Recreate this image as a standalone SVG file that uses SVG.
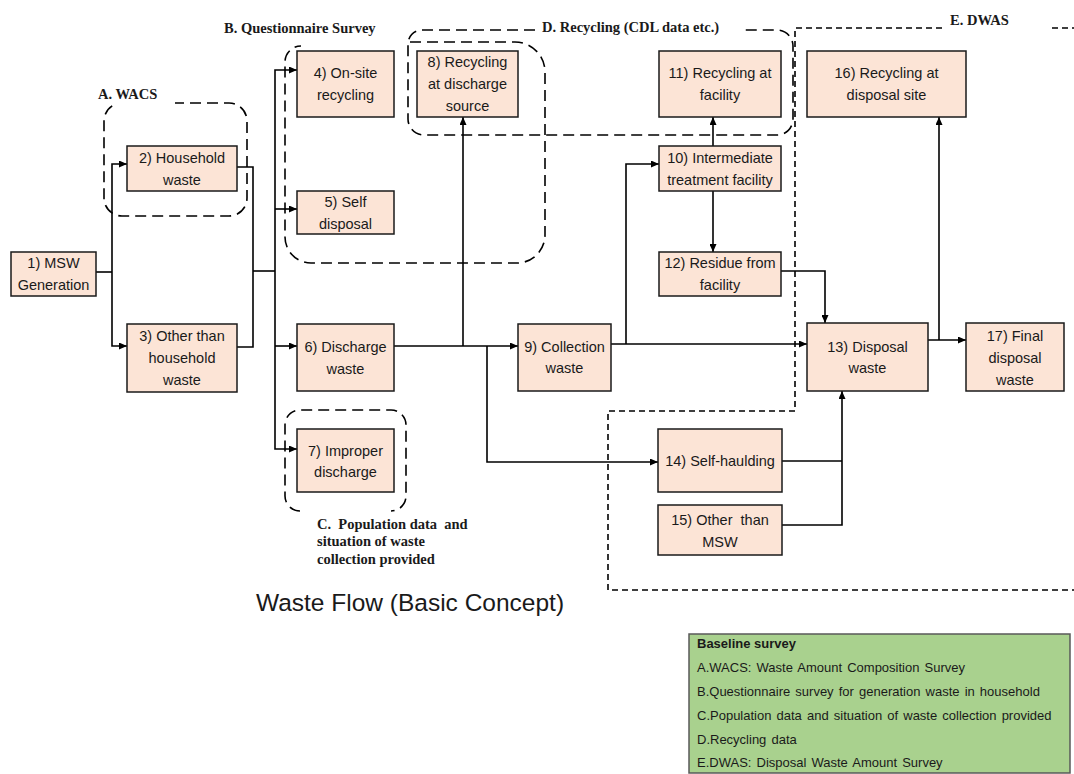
<svg xmlns="http://www.w3.org/2000/svg" width="1074" height="774" viewBox="0 0 1074 774">
  <defs>
    <marker id="arr" viewBox="0 0 8 7" markerUnits="userSpaceOnUse" markerWidth="8" markerHeight="7" refX="8" refY="3.5" orient="auto">
      <path d="M0,0 L8,3.5 L0,7 z" fill="#000"/>
    </marker>
    <style>
      .node rect { fill: #fce4d6; stroke: #1a1a1a; stroke-width: 1.5; }
      .node text { font-family: "Liberation Sans", Arial, sans-serif; font-size: 14.5px; fill: #1a1a1a; text-anchor: middle; }
      .conn path { fill: none; stroke: #000; stroke-width: 1.6; }
      .conn .a { marker-end: url(#arr); }
      .zone { fill: none; stroke: #000; stroke-width: 1.6; stroke-dasharray: 11 6; }
      .zoneE { fill: none; stroke: #000; stroke-width: 1.6; stroke-dasharray: 6 4; }
      .lbl { font-family: "Liberation Serif", "Times New Roman", serif; font-weight: bold; font-size: 14.5px; fill: #1a1a1a; }
      .legend text { font-family: "Liberation Sans", Arial, sans-serif; font-size: 13px; fill: #1a1a1a; word-spacing: 1.5px; }
    </style>
  </defs>
  <rect width="1074" height="774" fill="#fff"/>

  <!-- survey zones -->
  <g id="zones">
    <rect class="zone" x="104" y="103" width="143" height="113" rx="18"/>
    <rect x="115" y="84" width="60" height="24" fill="#fff"/>
    <path class="zone" d="M410,42 H515 A30,30 0 0 1 545,72 V235 A28,28 0 0 1 517,263 H311 A26,26 0 0 1 285,237 V62 A16,16 0 0 1 301,46"/>
    <path class="zone" d="M535,30 H422 A14,14 0 0 0 408,44 V119 A16,16 0 0 0 424,135 H777 A16,16 0 0 0 793,119 V46 A16,16 0 0 0 777,30 H742"/>
    <path class="zone" d="M300,511 A15,15 0 0 1 285,496 V425 A15,15 0 0 1 300,410 H391 A15,15 0 0 1 406,425 V496 A15,15 0 0 1 391,511"/>
    <path class="zoneE" d="M942,28 H795 V411 H608 V590 H1074"/>
    <path class="zoneE" d="M1052,28 H1074"/>
    <text class="lbl" x="98" y="99">A. WACS</text>
    <text class="lbl" x="224" y="33">B. Questionnaire Survey</text>
    <text class="lbl" x="542" y="32">D. Recycling (CDL data etc.)</text>
    <text class="lbl" x="950" y="25">E. DWAS</text>
    <text class="lbl" x="317" y="529" xml:space="preserve">C.  Population data  and</text>
    <text class="lbl" x="317" y="546">situation of waste</text>
    <text class="lbl" x="317" y="564">collection provided</text>
  </g>

  <!-- flow connectors -->
  <g id="connectors" class="conn">
    <path d="M96,272 H112"/>
    <path class="a" d="M112,272 V164 H127"/>
    <path class="a" d="M112,272 V346 H127"/>
    <path d="M237,167 H253 V347 H237"/>
    <path d="M253,271 H275"/>
    <path class="a" d="M275,271 V70 H297"/>
    <path class="a" d="M275,209 H297"/>
    <path class="a" d="M275,271 V449 H297"/>
    <path class="a" d="M275,346 H297"/>
    <path class="a" d="M394,346 H518"/>
    <path class="a" d="M463,346 V117"/>
    <path class="a" d="M487,346 V462 H658"/>
    <path class="a" d="M611,344 H807"/>
    <path class="a" d="M626,344 V164 H659"/>
    <path class="a" d="M713,146 V117"/>
    <path class="a" d="M713,191 V252"/>
    <path class="a" d="M781,271 H825 V323"/>
    <path class="a" d="M928,340 H966"/>
    <path class="a" d="M939,340 V117"/>
    <path d="M782,461 H842"/>
    <path class="a" d="M782,525 H842 V391"/>
  </g>

  <g id="n1" class="node"><rect x="11" y="252" width="85" height="44"/><text x="53.5" y="268">1) MSW</text><text x="53.5" y="290">Generation</text></g>
  <g id="n2" class="node"><rect x="127" y="146" width="110" height="45"/><text x="182" y="163">2) Household</text><text x="182" y="185">waste</text></g>
  <g id="n3" class="node"><rect x="127" y="324" width="110" height="68"/><text x="182" y="341">3) Other than</text><text x="182" y="363">household</text><text x="182" y="385">waste</text></g>
  <g id="n4" class="node"><rect x="297" y="51" width="97" height="66"/><text x="345.5" y="78">4) On-site</text><text x="345.5" y="100">recycling</text></g>
  <g id="n5" class="node"><rect x="297" y="191" width="97" height="43"/><text x="345.5" y="207">5) Self</text><text x="345.5" y="229">disposal</text></g>
  <g id="n6" class="node"><rect x="297" y="324" width="97" height="67"/><text x="345.5" y="352">6) Discharge</text><text x="345.5" y="374">waste</text></g>
  <g id="n7" class="node"><rect x="297" y="429" width="97" height="63"/><text x="345.5" y="456">7) Improper</text><text x="345.5" y="477">discharge</text></g>
  <g id="n8" class="node"><rect x="417" y="51" width="101" height="66"/><text x="467.5" y="67">8) Recycling</text><text x="467.5" y="89">at discharge</text><text x="467.5" y="111">source</text></g>
  <g id="n9" class="node"><rect x="518" y="324" width="93" height="67"/><text x="564.5" y="352">9) Collection</text><text x="564.5" y="373">waste</text></g>
  <g id="n10" class="node"><rect x="659" y="146" width="122" height="45"/><text x="720" y="163">10) Intermediate</text><text x="720" y="185">treatment facility</text></g>
  <g id="n11" class="node"><rect x="659" y="51" width="122" height="66"/><text x="720" y="78">11) Recycling at</text><text x="720" y="100">facility</text></g>
  <g id="n12" class="node"><rect x="659" y="252" width="122" height="44"/><text x="720" y="268">12) Residue from</text><text x="720" y="290">facility</text></g>
  <g id="n13" class="node"><rect x="807" y="323" width="121" height="68"/><text x="867.5" y="352">13) Disposal</text><text x="867.5" y="373">waste</text></g>
  <g id="n14" class="node"><rect x="658" y="429" width="124" height="63"/><text x="720" y="466">14) Self-haulding</text></g>
  <g id="n15" class="node"><rect x="658" y="505" width="124" height="50"/><text x="720" y="525" xml:space="preserve">15) Other  than</text><text x="720" y="547">MSW</text></g>
  <g id="n16" class="node"><rect x="807" y="51" width="159" height="66"/><text x="886.5" y="78">16) Recycling at</text><text x="886.5" y="100">disposal site</text></g>
  <g id="n17" class="node"><rect x="966" y="323" width="98" height="68"/><text x="1015" y="341">17) Final</text><text x="1015" y="363">disposal</text><text x="1015" y="385">waste</text></g>

  <text x="410" y="611" font-family="'Liberation Sans', Arial, sans-serif" font-size="24.5" fill="#1a1a1a" text-anchor="middle">Waste Flow (Basic Concept)</text>

  <g id="legend" class="legend">
    <rect x="689" y="634" width="381" height="139" fill="#a9d18e" stroke="#595959" stroke-width="1.5"/>
    <text x="697" y="648" font-weight="bold" style="word-spacing:0">Baseline survey</text>
    <text x="697" y="672">A.WACS: Waste Amount Composition Survey</text>
    <text x="697" y="696">B.Questionnaire survey for generation waste in household</text>
    <text x="697" y="720">C.Population data and situation of waste collection provided</text>
    <text x="697" y="744">D.Recycling data</text>
    <text x="697" y="767">E.DWAS: Disposal Waste Amount Survey</text>
  </g>
</svg>
